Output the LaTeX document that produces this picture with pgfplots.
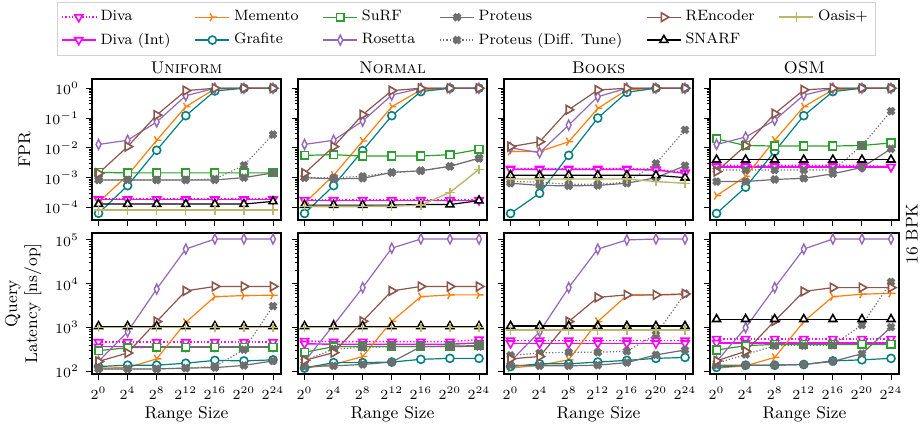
\documentclass[border=0pt]{standalone}
\usepackage{pgfplots}
\pgfplotsset{compat=1.18}
\definecolor{cMemento}{HTML}{FF7F0E}
\definecolor{cGrafite}{HTML}{008080}
\definecolor{cSuRF}{HTML}{2CA02C}
\definecolor{cRosetta}{HTML}{9467BD}
\definecolor{cProteus}{HTML}{6E6E6E}
\definecolor{cREnc}{HTML}{8C564B}
\definecolor{cOasis}{HTML}{BDB76B}
\definecolor{cDiva}{HTML}{FF00FF}
\newcommand{\series}[8]{\addplot[#1] coordinates {(0,#2)(4,#3)(8,#4)(12,#5)(16,#6)(20,#7)(24,#8)};}
\pgfplotsset{
  sDiva/.style={cDiva, densely dotted, line width=0.7pt, mark=triangle*, mark size=2.3pt, mark options={solid, rotate=180, fill=white, line width=0.8pt}},
  sDivaInt/.style={cDiva, solid, line width=0.7pt, mark=triangle*, mark size=2.3pt, mark options={solid, rotate=180, fill=white, line width=0.8pt}},
  sMemento/.style={cMemento, solid, line width=0.6pt, mark=Mercedes star, mark size=2.3pt, mark options={solid, rotate=-90, line width=0.7pt}},
  sGrafite/.style={cGrafite, solid, line width=0.6pt, mark=*, mark size=2pt, mark options={solid, fill=white, line width=0.8pt}},
  sSuRF/.style={cSuRF, solid, line width=0.6pt, mark=square*, mark size=1.9pt, mark options={solid, fill=white, line width=0.8pt}},
  sRosetta/.style={cRosetta, solid, line width=0.6pt, mark=diamond*, mark size=2.5pt, mark options={solid, fill=white, xscale=0.65, line width=0.7pt}},
  sProteus/.style={cProteus, solid, line width=0.6pt, mark=x, mark size=2.1pt, mark options={solid, line width=2.0pt}},
  sProteusD/.style={cProteus, densely dotted, line width=0.6pt, mark=x, mark size=2.1pt, mark options={solid, line width=2.0pt}},
  sREnc/.style={cREnc, solid, line width=0.6pt, mark=triangle*, mark size=2.5pt, mark options={solid, rotate=-90, fill=white, line width=0.8pt}},
  sSNARF/.style={black, solid, line width=0.6pt, mark=triangle*, mark size=2.3pt, mark options={solid, fill=white, line width=0.8pt}},
  sOasis/.style={cOasis, solid, line width=0.7pt, mark=+, mark size=2.4pt, mark options={solid, line width=0.7pt}},
}
\begin{document}
\begin{tikzpicture}
\path[use as bounding box] (0,0) rectangle (460pt,-213.5pt);
% ---------------- legend ----------------
\begin{axis}[at={(0pt,0pt)}, anchor=north west, scale only axis, width=460pt, height=20pt, hide axis,
  xmin=0, xmax=1, ymin=0, ymax=1, legend columns=6, legend cell align=left,
  legend style={at={(0.507,0.95)}, anchor=north, draw=gray!35, font=\fontsize{7.5}{9}\selectfont,
    /tikz/every even column/.append style={column sep=10pt}, row sep=0.5pt, inner sep=2pt}]
\addlegendimage{sDiva}\addlegendentry{Diva}
\addlegendimage{sMemento}\addlegendentry{Memento}
\addlegendimage{sSuRF}\addlegendentry{SuRF}
\addlegendimage{sProteus}\addlegendentry{Proteus}
\addlegendimage{sREnc}\addlegendentry{REncoder}
\addlegendimage{sOasis}\addlegendentry{Oasis+}
\addlegendimage{sDivaInt}\addlegendentry{Diva (Int)}
\addlegendimage{sGrafite}\addlegendentry{Grafite}
\addlegendimage{sRosetta}\addlegendentry{Rosetta}
\addlegendimage{sProteusD}\addlegendentry{Proteus (Diff. Tune)}
\addlegendimage{sSNARF}\addlegendentry{SNARF}
\end{axis}
\pgfplotsset{
  myaxis/.style={scale only axis, width=94.5pt, height=70.5pt, xmin=-0.9, xmax=25.1,
    xtick={0,4,8,12,16,20,24}, axis line style={line width=0.7pt},
    tick align=outside, xtick pos=left, ytick pos=left,
    major tick length=3pt, minor tick length=1.6pt,
    tick style={black, line width=0.5pt},
    tick label style={font=\fontsize{7.5}{8}\selectfont},
    title style={font=\fontsize{8.5}{9}\selectfont, yshift=-7pt},
    xlabel style={font=\fontsize{8.5}{10}\selectfont, yshift=3.5pt},
    ylabel style={font=\fontsize{8.5}{10}\selectfont}},
}
% ---------------- top row: FPR ----------------
\begin{axis}[myaxis, ymode=log, ymin=3.8e-5, ymax=2.04, ytick={1e-4,1e-3,1e-2,1e-1,1}, xticklabel=\empty,
  at={(46pt,-39.5pt)}, anchor=north west, title={\textsc{Uniform}}, ylabel={FPR}]
\series{sDiva}{1.9e-4}{1.9e-4}{1.9e-4}{1.9e-4}{1.9e-4}{1.9e-4}{1.9e-4}
\series{sDivaInt}{1.85e-4}{1.85e-4}{1.85e-4}{1.85e-4}{1.85e-4}{1.85e-4}{1.85e-4}
\series{sMemento}{1.5e-4}{1.2e-3}{0.018}{0.24}{0.95}{1}{1}
\series{sGrafite}{6.4e-5}{5.4e-4}{8.3e-3}{0.12}{0.81}{1}{1}
\series{sSuRF}{1.5e-3}{1.45e-3}{1.45e-3}{1.45e-3}{1.45e-3}{1.45e-3}{1.45e-3}
\series{sRosetta}{0.013}{0.018}{0.074}{0.56}{1}{1}{1}
\series{sProteus}{8.4e-4}{8.4e-4}{8.4e-4}{8.4e-4}{8.4e-4}{1.0e-3}{1.45e-3}
\series{sProteusD}{8.4e-4}{8.4e-4}{8.4e-4}{8.4e-4}{9e-4}{2.6e-3}{0.028}
\series{sREnc}{1.4e-3}{0.011}{0.126}{0.83}{1}{1}{1}
\series{sSNARF}{1.3e-4}{1.3e-4}{1.3e-4}{1.3e-4}{1.3e-4}{1.3e-4}{1.6e-4}
\series{sOasis}{8.3e-5}{8.3e-5}{8.3e-5}{8.3e-5}{8.3e-5}{8.3e-5}{8.3e-5}
\end{axis}
\begin{axis}[myaxis, ymode=log, ymin=3.8e-5, ymax=2.04, ytick={1e-4,1e-3,1e-2,1e-1,1}, xticklabel=\empty, yticklabel=\empty,
  at={(149pt,-39.5pt)}, anchor=north west, title={\textsc{Normal}}]
\series{sDiva}{1.8e-4}{1.8e-4}{1.8e-4}{1.8e-4}{1.8e-4}{1.8e-4}{1.8e-4}
\series{sDivaInt}{1.75e-4}{1.75e-4}{1.75e-4}{1.75e-4}{1.75e-4}{1.75e-4}{1.75e-4}
\series{sMemento}{1.4e-4}{1.2e-3}{0.017}{0.24}{0.88}{1}{1}
\series{sGrafite}{6.3e-5}{5.4e-4}{8.1e-3}{0.12}{0.77}{1}{1}
\series{sSuRF}{5.6e-3}{5.9e-3}{5.3e-3}{5.3e-3}{5.3e-3}{5.9e-3}{8.9e-3}
\series{sRosetta}{0.013}{0.018}{0.079}{0.59}{1}{1}{1}
\series{sProteus}{1.0e-3}{9.1e-4}{9.5e-4}{1.5e-3}{1.7e-3}{2.4e-3}{4.5e-3}
\series{sProteusD}{1.0e-3}{1.0e-3}{1.1e-3}{1.5e-3}{1.7e-3}{2.4e-3}{4.5e-3}
\series{sREnc}{1.4e-3}{0.011}{0.13}{0.83}{1}{1}{1}
\series{sSNARF}{1.2e-4}{1.2e-4}{1.2e-4}{1.2e-4}{1.25e-4}{1.25e-4}{1.7e-4}
\series{sOasis}{1.07e-4}{1.07e-4}{1.07e-4}{1.1e-4}{1.2e-4}{3.2e-4}{1.9e-3}
\end{axis}
\begin{axis}[myaxis, ymode=log, ymin=3.8e-5, ymax=2.04, ytick={1e-4,1e-3,1e-2,1e-1,1}, xticklabel=\empty, yticklabel=\empty,
  at={(252pt,-39.5pt)}, anchor=north west, title={\textsc{Books}}]
\series{sDiva}{2.0e-3}{2.0e-3}{2.0e-3}{2.0e-3}{2.0e-3}{1.9e-3}{1.5e-3}
\series{sDivaInt}{1.9e-3}{1.9e-3}{1.9e-3}{1.9e-3}{1.9e-3}{1.8e-3}{1.4e-3}
\series{sMemento}{7.6e-3}{7.6e-3}{0.016}{0.21}{0.88}{1}{1}
\series{sGrafite}{6.3e-5}{3.0e-4}{5.6e-3}{0.10}{0.73}{1}{1}
\series{sRosetta}{0.010}{0.0069}{0.058}{0.52}{1}{1}{1}
\series{sProteus}{6.5e-4}{5.5e-4}{5.3e-4}{5.5e-4}{6.5e-4}{1.0e-3}{2.5e-3}
\series{sProteusD}{7.5e-4}{7e-4}{6e-4}{6e-4}{7e-4}{3.0e-3}{0.04}
\series{sREnc}{0.011}{0.016}{0.19}{0.87}{1}{1}{1}
\series{sSNARF}{1.2e-3}{1.2e-3}{1.2e-3}{1.2e-3}{1.2e-3}{1.2e-3}{1.0e-3}
\series{sOasis}{9e-4}{9e-4}{9e-4}{9e-4}{9e-4}{7.4e-4}{6.5e-4}
\end{axis}
\begin{axis}[myaxis, ymode=log, ymin=3.8e-5, ymax=2.04, ytick={1e-4,1e-3,1e-2,1e-1,1}, xticklabel=\empty, yticklabel=\empty,
  at={(355pt,-39.5pt)}, anchor=north west, title={\textsc{OSM}}]
\series{sDiva}{2.6e-3}{2.6e-3}{2.6e-3}{2.6e-3}{2.6e-3}{2.6e-3}{2.3e-3}
\series{sDivaInt}{2.3e-3}{2.3e-3}{2.3e-3}{2.3e-3}{2.3e-3}{2.3e-3}{2.3e-3}
\series{sMemento}{2.5e-4}{1.1e-3}{0.018}{0.24}{0.88}{1}{1}
\series{sGrafite}{6.3e-5}{4.8e-4}{7.6e-3}{0.12}{0.77}{1}{1}
\series{sSuRF}{0.020}{0.012}{0.0115}{0.0115}{0.0115}{0.012}{0.0146}
\series{sRosetta}{0.013}{0.023}{0.085}{0.59}{1}{1}{1}
\series{sProteus}{7.4e-4}{7.4e-4}{8.7e-4}{9.5e-4}{1.35e-3}{2.2e-3}{9.3e-3}
\series{sProteusD}{1.8e-3}{1.8e-3}{1.8e-3}{1.8e-3}{1.8e-3}{0.012}{0.17}
\series{sREnc}{1.6e-3}{0.012}{0.14}{0.88}{1}{1}{1}
\series{sSNARF}{4.0e-3}{4.0e-3}{4.0e-3}{4.0e-3}{4.0e-3}{4.0e-3}{4.0e-3}
\end{axis}
% ---------------- bottom row: latency ----------------
\begin{axis}[myaxis, ymode=log, ymin=88, ymax=1.44e5, ytick={1e2,1e3,1e4,1e5},
  xticklabels={$2^{0}$,$2^{4}$,$2^{8}$,$2^{12}$,$2^{16}$,$2^{20}$,$2^{24}$}, xlabel={Range Size},
  at={(46pt,-116.5pt)}, anchor=north west, ylabel={Query\\Latency [ns/op]}, ylabel style={align=center}]
\series{sDiva}{470}{470}{470}{470}{470}{470}{470}
\series{sDivaInt}{370}{370}{370}{370}{370}{370}{370}
\series{sMemento}{120}{123}{195}{1320}{5100}{5400}{5500}
\series{sGrafite}{130}{140}{140}{155}{180}{175}{185}
\series{sSuRF}{300}{350}{360}{360}{360}{360}{360}
\series{sRosetta}{170}{810}{7600}{62000}{105000}{105000}{105000}
\series{sProteus}{115}{115}{115}{120}{123}{138}{175}
\series{sProteusD}{115}{115}{115}{120}{130}{315}{3100}
\series{sREnc}{170}{265}{1380}{6900}{8700}{8700}{8700}
\series{sSNARF}{1080}{1080}{1080}{1080}{1080}{1080}{1080}
\series{sOasis}{1020}{1020}{1020}{1020}{1020}{1020}{1020}
\end{axis}
\begin{axis}[myaxis, ymode=log, ymin=88, ymax=1.44e5, ytick={1e2,1e3,1e4,1e5}, yticklabel=\empty,
  xticklabels={$2^{0}$,$2^{4}$,$2^{8}$,$2^{12}$,$2^{16}$,$2^{20}$,$2^{24}$}, xlabel={Range Size},
  at={(149pt,-116.5pt)}, anchor=north west]
\series{sDiva}{500}{480}{480}{480}{480}{480}{540}
\series{sDivaInt}{430}{420}{420}{420}{420}{420}{450}
\series{sMemento}{120}{145}{220}{1400}{5100}{5600}{5600}
\series{sGrafite}{120}{160}{160}{165}{190}{200}{200}
\series{sSuRF}{275}{370}{370}{370}{370}{380}{390}
\series{sRosetta}{170}{1150}{8200}{65000}{105000}{105000}{105000}
\series{sProteus}{130}{135}{145}{165}{370}{370}{380}
\series{sProteusD}{175}{330}{355}{370}{370}{370}{370}
\series{sREnc}{180}{270}{1400}{6900}{8700}{8700}{8700}
\series{sSNARF}{1080}{1080}{1080}{1080}{1080}{1080}{1080}
\series{sOasis}{1020}{1020}{1020}{1020}{1020}{1020}{1020}
\end{axis}
\begin{axis}[myaxis, ymode=log, ymin=88, ymax=1.44e5, ytick={1e2,1e3,1e4,1e5}, yticklabel=\empty,
  xticklabels={$2^{0}$,$2^{4}$,$2^{8}$,$2^{12}$,$2^{16}$,$2^{20}$,$2^{24}$}, xlabel={Range Size},
  at={(252pt,-116.5pt)}, anchor=north west]
\series{sDiva}{510}{510}{510}{510}{510}{510}{510}
\series{sDivaInt}{440}{440}{440}{440}{440}{440}{440}
\series{sMemento}{120}{140}{185}{1380}{5400}{5600}{5700}
\series{sGrafite}{130}{150}{150}{165}{180}{200}{210}
\series{sRosetta}{170}{810}{8200}{62000}{100000}{105000}{105000}
\series{sProteus}{140}{135}{135}{140}{160}{240}{310}
\series{sProteusD}{235}{265}{275}{275}{290}{700}{6000}
\series{sREnc}{195}{220}{1380}{4900}{5600}{5600}{5900}
\series{sSNARF}{1090}{1090}{1090}{1090}{1090}{1090}{1090}
\series{sOasis}{890}{890}{890}{890}{890}{890}{890}
\end{axis}
\begin{axis}[myaxis, ymode=log, ymin=88, ymax=1.44e5, ytick={1e2,1e3,1e4,1e5}, yticklabel=\empty,
  xticklabels={$2^{0}$,$2^{4}$,$2^{8}$,$2^{12}$,$2^{16}$,$2^{20}$,$2^{24}$}, xlabel={Range Size},
  at={(355pt,-116.5pt)}, anchor=north west]
\series{sDiva}{555}{555}{555}{555}{555}{555}{555}
\series{sDivaInt}{450}{450}{450}{450}{450}{450}{450}
\series{sMemento}{120}{135}{210}{1380}{5100}{5800}{6100}
\series{sGrafite}{125}{140}{140}{145}{175}{185}{200}
\series{sSuRF}{310}{390}{415}{415}{415}{415}{415}
\series{sRosetta}{170}{1000}{8200}{62000}{105000}{105000}{105000}
\series{sProteus}{140}{140}{140}{145}{170}{255}{1030}
\series{sProteusD}{155}{245}{390}{390}{400}{1150}{11000}
\series{sREnc}{175}{290}{1430}{6700}{8200}{8200}{8200}
\series{sSNARF}{1560}{1560}{1560}{1560}{1560}{1560}{1560}
\end{axis}
\node[rotate=90, font=\fontsize{8.5}{10}\selectfont] at (456pt,-117pt) {16 BPK};
\end{tikzpicture}
\end{document}
